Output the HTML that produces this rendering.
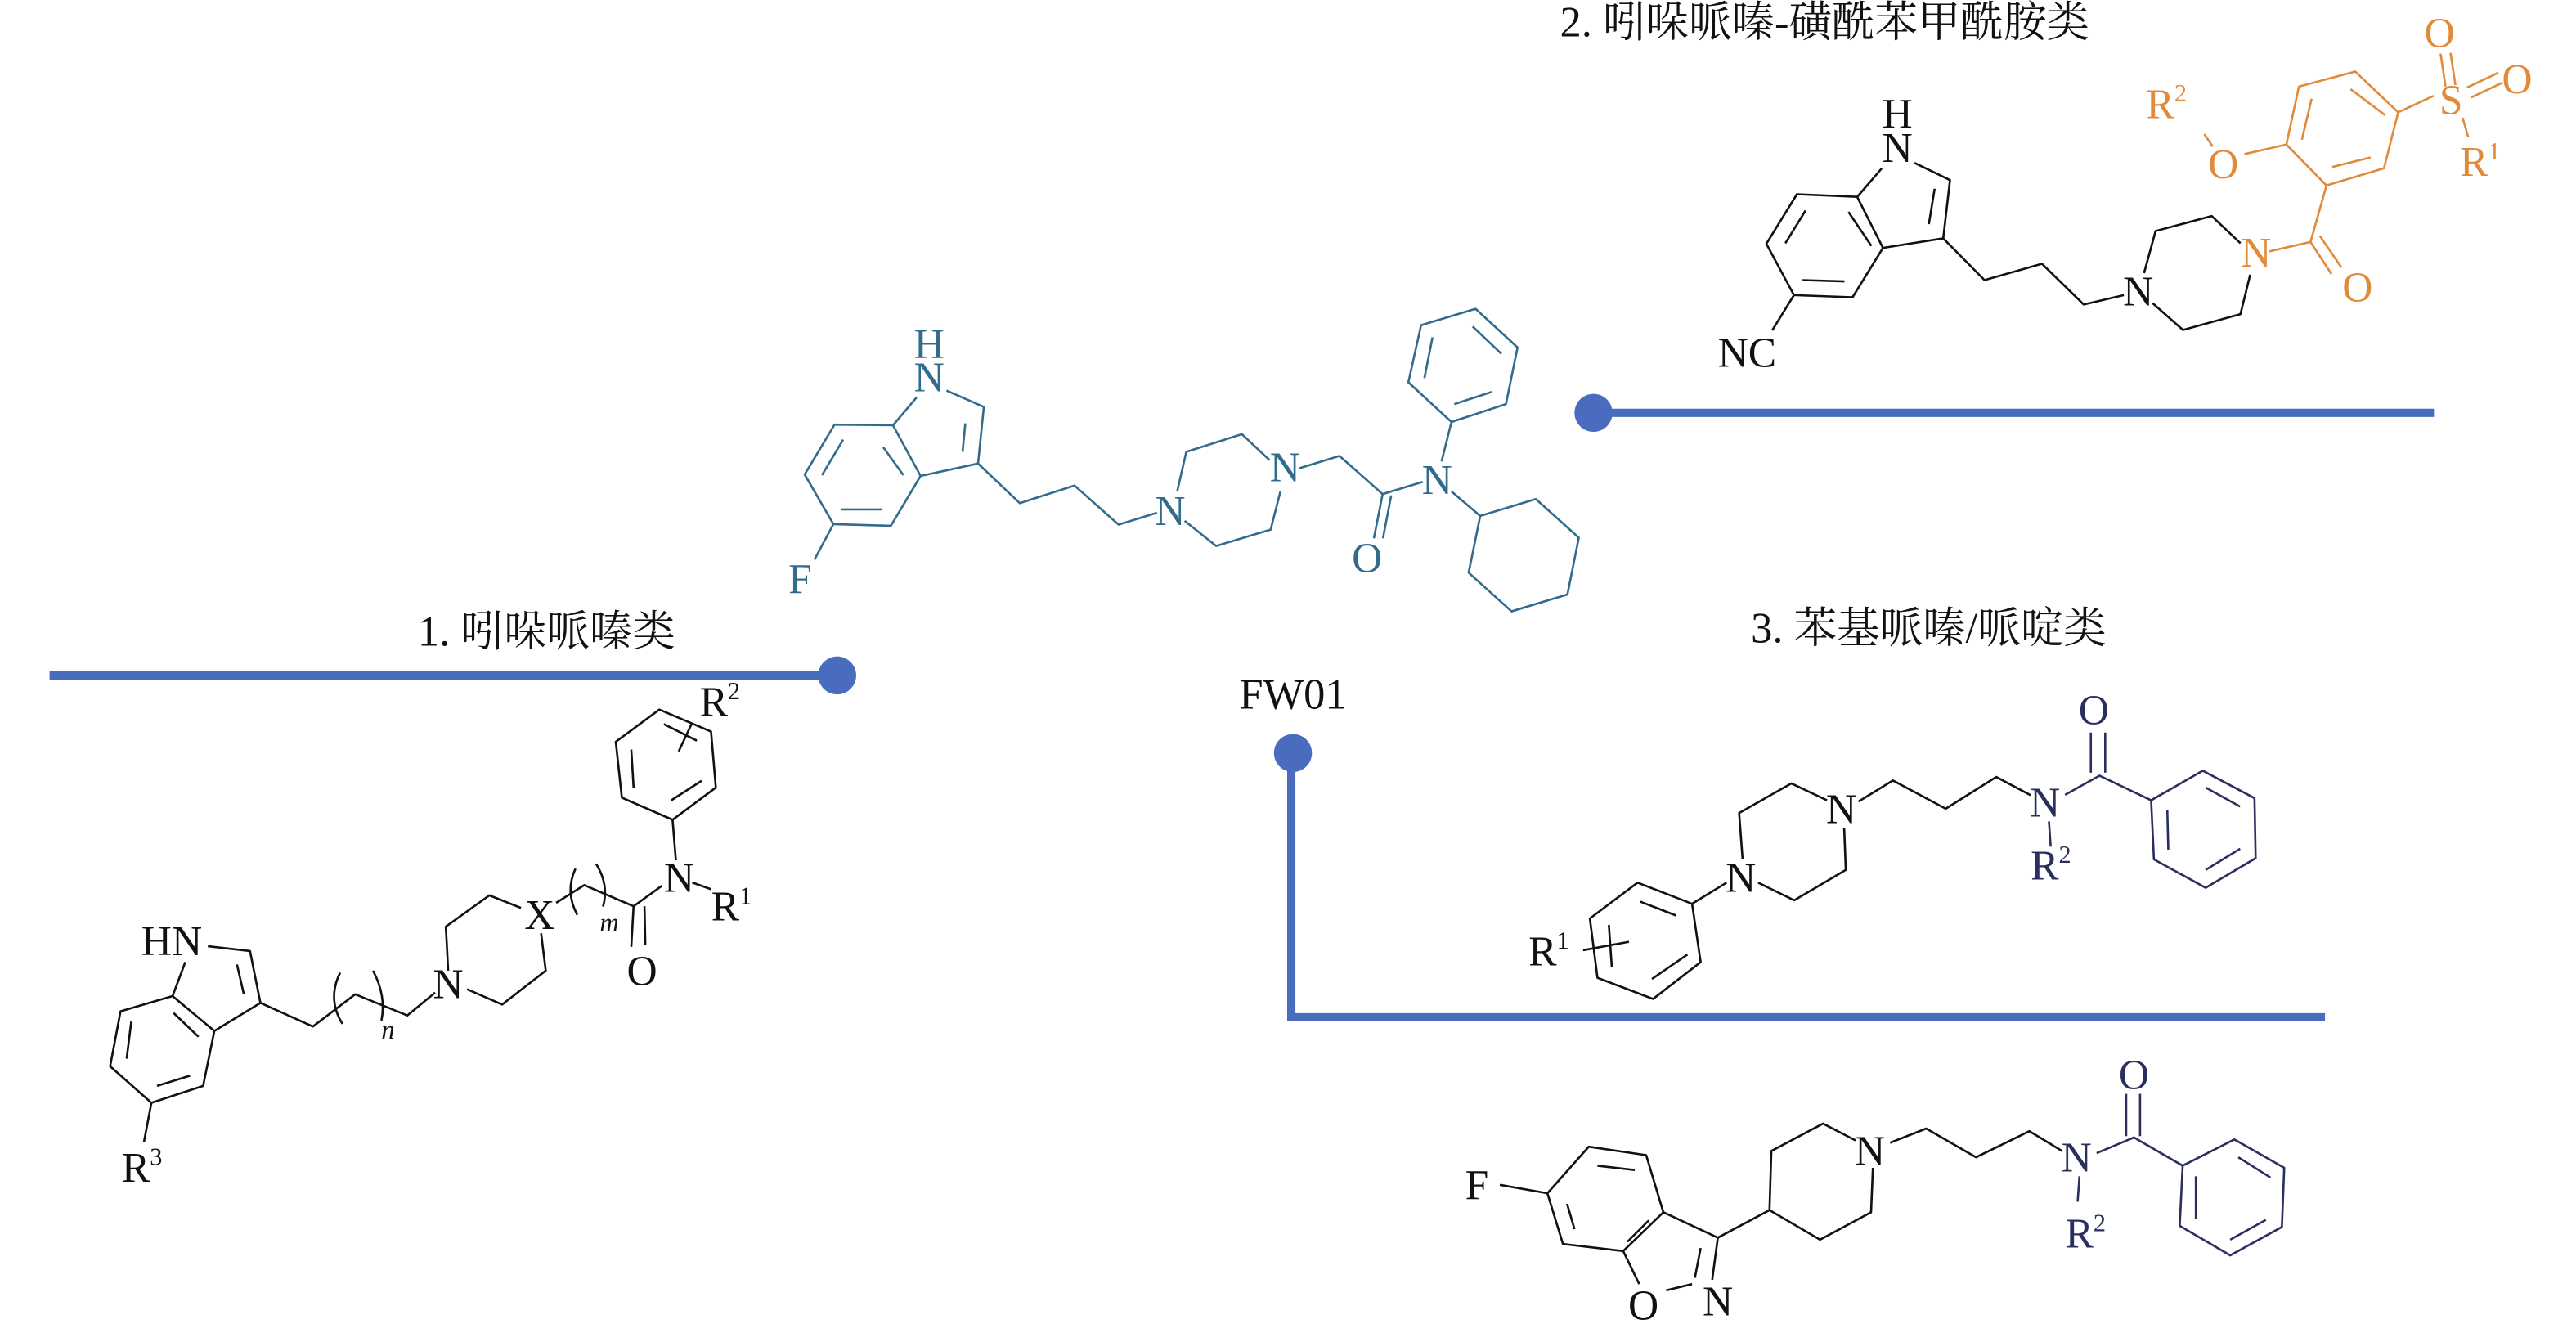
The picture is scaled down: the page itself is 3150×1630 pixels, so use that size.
<!DOCTYPE html>
<html><head><meta charset="utf-8"><style>
html,body{margin:0;padding:0;background:#fff;width:3150px;height:1630px;overflow:hidden}
svg{display:block}
text{font-family:"Liberation Serif","Noto Serif CJK SC",serif;}
</style></head><body>
<svg width="3150" height="1630" viewBox="0 0 1560 807.2" xmlns="http://www.w3.org/2000/svg">
<rect width="1560" height="807.2" fill="#fff"/>

<!-- connectors -->
<g stroke="#4a6cbf" stroke-width="5" fill="none">
<line x1="30" y1="409" x2="505" y2="409"/>
<line x1="965" y1="250" x2="1474" y2="250"/>
<polyline points="782,456 782,616 1408,616"/>
</g>
<g fill="#4a6cbf">
<circle cx="507" cy="409" r="11.5"/>
<circle cx="965" cy="250" r="11.5"/>
<circle cx="783" cy="456" r="11.5"/>
</g>

<!-- labels -->
<g font-size="26" fill="#111" text-anchor="middle">
<text x="331" y="391">1. 吲哚哌嗪类</text>
<text x="1105" y="22">2. 吲哚哌嗪-磺酰苯甲酰胺类</text>
<text x="1168" y="389">3. 苯基哌嗪/哌啶类</text>
<text x="783" y="429">FW01</text>
</g>

<!-- FW01 -->
<g transform="translate(4,2)" stroke="#336b8c" stroke-width="1.3" fill="none" stroke-linejoin="round">
<polyline points="569.2,234.5 591.8,244.4 588.3,278.7 553.5,286.2 536.8,255.5 551.1,238.6"/>
<polyline points="536.8,255.5 501.4,255.1 483.3,285.3 500.7,315.4 535.5,316.4 553.5,286.2"/>
<line x1="506.6" y1="264.2" x2="493.8" y2="285.7"/>
<line x1="505.6" y1="306.5" x2="530.2" y2="306.5"/>
<line x1="530.9" y1="268.8" x2="543.1" y2="285.7"/>
<line x1="580.6" y1="254.3" x2="578.9" y2="271.6"/>
<line x1="500.7" y1="315.4" x2="489.2" y2="336.9"/>
<polyline points="588.3,278.7 613.6,302.7 646.7,292 673.4,315.7 696.7,308.5"/>
<polyline points="708.9,295.6 714.4,271.6 748.1,260.9 764.8,276.6"/>
<polyline points="771.4,295.6 765.5,318.7 732.5,328.6 713.4,313.4"/>
<polyline points="782.9,281.5 807.2,274.1 833.3,297.2 857.6,289.8"/>
<line x1="833.3" y1="297.2" x2="828" y2="324"/>
<line x1="838.5" y1="298" x2="833.5" y2="324"/>
<line x1="869" y1="277.4" x2="875" y2="253.5"/>
<polygon points="875,253.5 908,242.7 915,208.4 889.6,185 856.6,194.9 848.9,229.5"/>
<line x1="899.3" y1="235.3" x2="876.7" y2="242.7"/>
<line x1="905.2" y1="212.2" x2="887.8" y2="195.7"/>
<line x1="863.5" y1="202.3" x2="858.6" y2="227"/>
<line x1="875" y1="295.6" x2="892.4" y2="310.4"/>
<polygon points="892.4,310.4 926.1,300.2 952.1,323.6 945.2,358 911.4,368.2 885.4,344.8"/>
</g>
<g transform="translate(4,2)" fill="#336b8c" font-size="25.5" text-anchor="middle">
<text x="558.7" y="215">H</text>
<text x="558.7" y="235">N</text>
<text x="480.6" y="357">F</text>
<text x="704.7" y="316">N</text>
<text x="774.2" y="289.5">N</text>
<text x="823.9" y="344.5">O</text>
<text x="866.3" y="297">N</text>
</g>

<!-- Structure 2 -->
<g transform="translate(5,2)" stroke="#111" stroke-width="1.3" fill="none" stroke-linejoin="round">
<polyline points="1154.4,96.6 1175.9,107 1171.8,142.3 1135.3,148.1 1119.7,117.2 1134.6,99.9"/>
<polyline points="1119.7,117.2 1083.2,115.6 1064.7,145.6 1081.4,176.7 1116.9,178 1135.3,148.1"/>
<line x1="1088.4" y1="125.5" x2="1076.2" y2="145.3"/>
<line x1="1086.6" y1="167.6" x2="1112" y2="168.4"/>
<line x1="1114.4" y1="126.3" x2="1128.3" y2="146.9"/>
<line x1="1166.6" y1="112.3" x2="1163.1" y2="133.7"/>
<line x1="1081.4" y1="176.7" x2="1068.2" y2="198.1"/>
<polyline points="1171.8,142.3 1196.8,167.6 1231.6,157.7 1256.9,182.4 1281.2,176.7"/>
<polyline points="1293.4,163.4 1300.4,137.9 1334.4,128.8 1351.8,145.3"/>
<polyline points="1357.7,164.3 1351.8,188.2 1317,197.8 1298.6,181.6"/>
</g>
<g transform="translate(5,2)" stroke="#e08a3a" stroke-width="1.3" fill="none" stroke-linejoin="round">
<polyline points="1369.2,150.2 1394.2,144.5 1403.9,110.3"/>
<line x1="1394.2" y1="144.5" x2="1407" y2="164"/>
<line x1="1400" y1="141" x2="1413" y2="160"/>
<polygon points="1403.9,110.3 1438.7,99.9 1447.3,66 1421.3,41.3 1387.2,50.4 1379.6,85.5"/>
<line x1="1430.6" y1="93.3" x2="1407.4" y2="99.1"/>
<line x1="1418.5" y1="52" x2="1439.4" y2="67.7"/>
<line x1="1394.9" y1="57.8" x2="1389" y2="82.6"/>
<line x1="1379.6" y1="85.5" x2="1354.2" y2="91.3"/>
<line x1="1335" y1="86.7" x2="1329.9" y2="79.2"/>
<line x1="1447.3" y1="66" x2="1468.8" y2="56"/>
<line x1="1476" y1="50.4" x2="1473" y2="30.5"/>
<line x1="1482" y1="49.5" x2="1479" y2="30"/>
<line x1="1489" y1="51" x2="1508" y2="42"/>
<line x1="1491.5" y1="57" x2="1510.6" y2="48"/>
<line x1="1486.3" y1="69.3" x2="1489.7" y2="80.9"/>
</g>
<g transform="translate(5,2)" font-size="25.5" text-anchor="middle">
<g fill="#111">
<text x="1144" y="75.5">H</text>
<text x="1144" y="96">N</text>
<text x="1053" y="220">NC</text>
<text x="1289.9" y="183">N</text>
</g>
<g fill="#e08a3a">
<text x="1361.2" y="159.5">N</text>
<text x="1422.7" y="180.5">O</text>
<text x="1341.4" y="106">O</text>
<text x="1307" y="69.5">R<tspan font-size="15" dy="-10">2</tspan></text>
<text x="1479.3" y="67">S</text>
<text x="1472.4" y="26.5">O</text>
<text x="1519.3" y="54.5">O</text>
<text x="1497" y="104.5">R<tspan font-size="15" dy="-10">1</tspan></text>
</g>
</g>

<!-- Structure 1 -->
<g transform="translate(3,1)" stroke="#111" stroke-width="1.3" fill="none" stroke-linejoin="round">
<polyline points="122.9,572 148.4,574.9 154.7,606.3 126.8,623.3 101.5,602.2 109.2,581.6"/>
<line x1="140.5" y1="583.1" x2="144.7" y2="601.1"/>
<polyline points="101.5,602.2 70,611.4 63.7,644.7 88.7,666.8 120,656.6 126.8,623.3"/>
<line x1="102.1" y1="612.4" x2="117.2" y2="626.8"/>
<line x1="76.5" y1="617.6" x2="73.7" y2="640.1"/>
<line x1="92.1" y1="656.6" x2="112.1" y2="650.4"/>
<line x1="88.7" y1="666.8" x2="84.2" y2="690.4"/>
<polyline points="154.7,606.3 186.5,620.6 212.1,601.1 243.7,613.9 260.5,600.1"/>
<path d="M203,588 Q195,604 204.4,619"/>
<path d="M222.9,586.8 Q231,602 228,617"/>
<polyline points="268.4,586.8 267,560.1 293.4,541.2 312.5,548.8"/>
<polyline points="324.7,564.2 327.5,586.8 301.1,607.3 279.8,598"/>
<polyline points="333.8,545.7 350.8,535 380.7,547.8 397.8,535.4"/>
<path d="M345.5,525 Q339,539 346.6,553"/>
<path d="M358,522.1 Q366,535 362.2,548"/>
<line x1="380.7" y1="547.8" x2="379.3" y2="572.4"/>
<line x1="387.3" y1="547.8" x2="387.8" y2="571.4"/>
<line x1="416.2" y1="533.4" x2="427.6" y2="537.5"/>
<line x1="406.3" y1="520" x2="404.3" y2="495.4"/>
<polygon points="404.3,495.4 430.5,475.9 427.6,442 396.3,428.7 369.9,448.2 373.6,482"/>
<line x1="421.9" y1="471.8" x2="403.4" y2="483.7"/>
<line x1="379.3" y1="452.9" x2="380.7" y2="475.9"/>
<line x1="399" y1="437.5" x2="419" y2="447.5"/>
<line x1="408" y1="454" x2="416" y2="437"/>
</g>
<g transform="translate(3,1)" fill="#111" font-size="25.5" text-anchor="middle">
<text x="101" y="577.5">HN</text>
<text x="83" y="714.5">R<tspan font-size="15" dy="-10">3</tspan></text>
<text x="268.4" y="603.5">N</text>
<text x="323.8" y="561.5">X</text>
<text x="232" y="628" font-style="italic" font-size="16">n</text>
<text x="366" y="563" font-style="italic" font-size="16">m</text>
<text x="385.8" y="595.5">O</text>
<text x="408.3" y="539">N</text>
<text x="440" y="556.5">R<tspan font-size="15" dy="-10">1</tspan></text>
<text x="433" y="432.5">R<tspan font-size="15" dy="-10">2</tspan></text>
</g>

<!-- Structure 3 -->
<g transform="translate(5,3)" stroke-width="1.3" fill="none" stroke-linejoin="round">
<g stroke="#111">
<polygon points="1019.7,544.3 986.7,531.5 957.8,553.2 962.4,589.1 996.1,601.9 1024.9,579.6"/>
<line x1="1010" y1="551.4" x2="988.4" y2="543"/>
<line x1="969.3" y1="557.1" x2="971.1" y2="582.7"/>
<line x1="995.4" y1="589.8" x2="1016.9" y2="575"/>
<line x1="953.7" y1="572.4" x2="981.5" y2="567.3"/>
<line x1="1019.7" y1="544.3" x2="1040.6" y2="531.5"/>
<polyline points="1050.3,517.4 1048.2,489.3 1079.8,471.4 1101.4,481.6"/>
<polyline points="1111.8,498.2 1112.8,523.8 1081.6,542.2 1059.7,531.5"/>
<polyline points="1120.5,482.4 1141.3,469.6 1173.3,486.7 1203.9,467.5 1224.7,478.5"/>
<polyline points="903.3,714.5 932.1,719.6"/>
<polygon points="932.1,719.6 957.1,691.4 991.9,696.5 1002.3,731.1 978,754.6 941.5,750.3"/>
<line x1="962.4" y1="702.9" x2="985" y2="705.5"/>
<line x1="944" y1="726" x2="948.5" y2="741.3"/>
<line x1="993.5" y1="736" x2="980.5" y2="749"/>
<polyline points="1002.3,731.1 1035.3,746.5 1031.9,772"/>
<line x1="1024.9" y1="752.8" x2="1021.4" y2="770.8"/>
<line x1="1004" y1="778.4" x2="1019.7" y2="774.6"/>
<line x1="987.7" y1="774.6" x2="978" y2="754.6"/>
<polyline points="1035.3,746.5 1066.6,729.8 1067.7,694 1099,677.4 1118.7,687.6"/>
<polyline points="1129.2,704.2 1128.1,731.1 1097.2,747.7 1066.6,729.8"/>
<polyline points="1139.6,689 1161.5,680.4 1191.7,697.8 1224,682 1243.8,694"/>
</g>
<g stroke="#2a2f5e">
<line x1="1235.8" y1="494.4" x2="1236.9" y2="509.7"/>
<polyline points="1245.6,478.3 1266.4,466.7 1297.7,481.6"/>
<line x1="1261.2" y1="464.9" x2="1261.2" y2="440.6"/>
<line x1="1269.9" y1="464.9" x2="1269.9" y2="440.6"/>
<polygon points="1297.7,481.6 1329,463.7 1360.3,480.3 1361,516.7 1330.7,534.6 1299.4,517.4"/>
<line x1="1330.7" y1="473.9" x2="1351.6" y2="485.4"/>
<line x1="1307.5" y1="487.5" x2="1308.1" y2="511.5"/>
<line x1="1330.7" y1="523.8" x2="1351.6" y2="511"/>
<line x1="1254.3" y1="709.3" x2="1253.2" y2="724.7"/>
<polyline points="1264.7,695.3 1287.3,685.8 1316.8,702.9"/>
<line x1="1282.6" y1="685" x2="1282.6" y2="659.4"/>
<line x1="1291" y1="685" x2="1291" y2="659.4"/>
<polygon points="1316.8,702.9 1348.1,687 1378.3,704.2 1376.9,740 1345.6,757.2 1315,739.3"/>
<line x1="1350.5" y1="697.8" x2="1370" y2="710.1"/>
<line x1="1324.8" y1="709.3" x2="1324.8" y2="734.9"/>
<line x1="1345.6" y1="747.7" x2="1367.2" y2="735.7"/>
</g>
</g>
<g transform="translate(5,3)" font-size="25.5" text-anchor="middle">
<g fill="#111">
<text x="933" y="581.5">R<tspan font-size="15" dy="-10">1</tspan></text>
<text x="1049.2" y="537">N</text>
<text x="1110.1" y="495.5">N</text>
<text x="889.4" y="723">F</text>
<text x="990.2" y="796">O</text>
<text x="1035.3" y="793.5">N</text>
<text x="1127.4" y="702.5">N</text>
</g>
<g fill="#2a2f5e">
<text x="1233.4" y="491.5">N</text>
<text x="1237" y="529.5">R<tspan font-size="15" dy="-10">2</tspan></text>
<text x="1263" y="435.5">O</text>
<text x="1252.5" y="706.5">N</text>
<text x="1258" y="752.5">R<tspan font-size="15" dy="-10">2</tspan></text>
<text x="1287.3" y="656.5">O</text>
</g>
</g>
</svg>
</body></html>
